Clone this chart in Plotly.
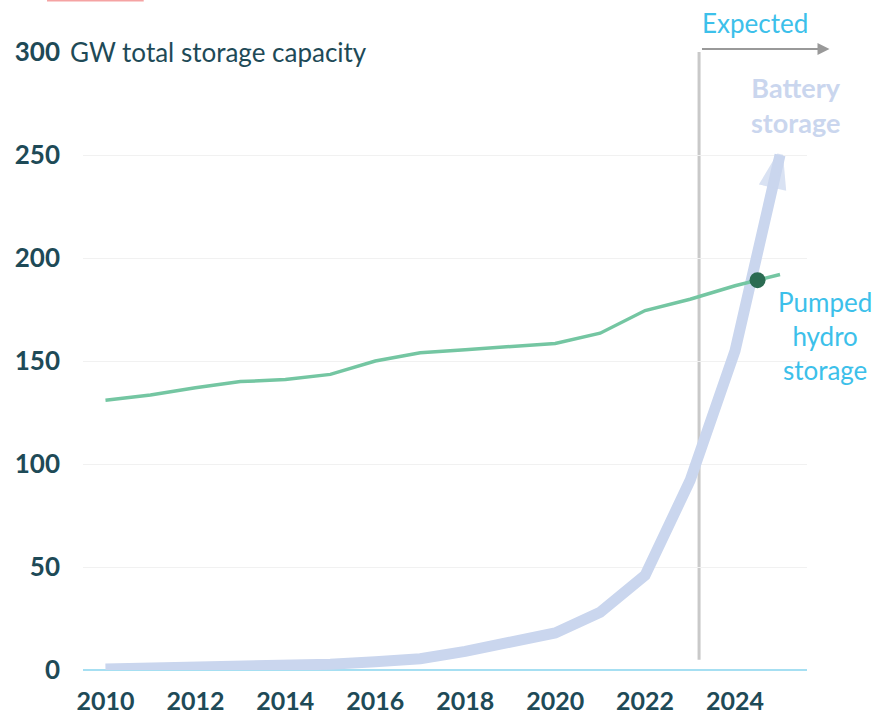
import plotly.graph_objects as go

# Installed storage capacity, GW
years = list(range(2010, 2026))
pumped_hydro = [131, 133.5, 137, 140, 141, 143.5, 150, 154, 155.5, 157, 158.5, 163.5, 174.5, 180, 186.5, 192]
battery = [0.5, 0.7, 1.0, 1.4, 2.0, 2.8, 4.0, 5.5, 9.0, 13.0, 18.0, 28.0, 46.0, 92.0, 155.0, 250.0]

forecast_from = 2023.2          # start of the expected period
crossover = (2024.5, 189.25)    # battery overtakes pumped hydro

x_tick_vals = list(range(2010, 2025, 2))
y_tick_vals = [0, 50, 100, 150, 200, 250, 300]

X0, X1 = 2009.5, 2025.6
Y0, Y1 = 0, 300


def xp(v):
    return (v - X0) / (X1 - X0)


def yp(v):
    return (v - Y0) / (Y1 - Y0)


TEXT = "#1e4a57"
CYAN = "#3cc0ea"
LAVENDER = "#cad6ee"
GREEN = "#74c6a2"
DOT = "#2b6b52"
FONT = "Lato"

fig = go.Figure()

# battery storage, ending in an arrow head
n = len(years)
fig.add_trace(go.Scatter(
    x=years, y=battery, mode="lines+markers",
    line=dict(color=LAVENDER, width=11),
    marker=dict(
        symbol=["circle"] * (n - 1) + ["arrow"],
        size=[0] * (n - 1) + [32],
        angleref="previous",
        color=LAVENDER,
        line=dict(color=LAVENDER, width=[0] * (n - 1) + [6]),
    ),
    hoverinfo="skip", showlegend=False,
))

fig.add_trace(go.Scatter(
    x=years, y=pumped_hydro, mode="lines",
    line=dict(color=GREEN, width=3.5),
    hoverinfo="skip", showlegend=False,
))

fig.add_trace(go.Scatter(
    x=[crossover[0]], y=[crossover[1]], mode="markers",
    marker=dict(color=DOT, size=16),
    hoverinfo="skip", showlegend=False,
))

# vertical boundary of the expected period
fig.add_shape(type="line", xref="x", yref="y",
              x0=forecast_from, x1=forecast_from, y0=5, y1=300,
              line=dict(color="#c9c9c9", width=3), layer="below")

annotations = [
    # horizontal arrow pointing into the expected period
    dict(x=xp(2026.1), y=yp(301.5), xref="paper", yref="paper",
         ax=-129, ay=0, text="", showarrow=True, arrowhead=2,
         arrowsize=1.2, arrowwidth=2, arrowcolor="#999999"),
    dict(x=xp(forecast_from), y=yp(301.5), xref="paper", yref="paper",
         xanchor="left", yanchor="bottom", yshift=8, xshift=1,
         text="Expected", showarrow=False,
         font=dict(family=FONT, size=26, color=CYAN)),
    dict(x=xp(2025.35), y=yp(274.5), xref="paper", yref="paper",
         xanchor="center", yanchor="middle",
         text="<b>Battery</b><br><b>storage</b>", showarrow=False,
         font=dict(family=FONT, size=27, color=LAVENDER)),
    dict(x=xp(2026.0), y=yp(162), xref="paper", yref="paper",
         xanchor="center", yanchor="middle",
         text="Pumped<br>hydro<br>storage", showarrow=False,
         font=dict(family=FONT, size=26, color=CYAN)),
    dict(x=xp(2009.2), y=1, xref="paper", yref="paper",
         xanchor="left", yanchor="middle", text="GW total storage capacity",
         showarrow=False, bgcolor="white", xshift=-2,
         font=dict(family=FONT, size=26, color=TEXT)),
]

fig.update_layout(
    width=879, height=714,
    margin=dict(l=83, r=72, t=52, b=44),
    paper_bgcolor="white", plot_bgcolor="white",
    annotations=annotations,
    shapes=list(fig.layout.shapes) + [
        dict(type="rect", xref="paper", yref="paper",
             x0=xp(2008.7), x1=xp(2010.85), y0=yp(324.5), y1=yp(326),
             fillcolor="#f5a3a3", line=dict(width=0)),
    ],
)

fig.update_xaxes(
    range=[X0, X1], tickvals=x_tick_vals, ticks="",
    showgrid=False, zeroline=False, showline=False, automargin=False,
    ticklabelstandoff=14,
    tickfont=dict(family=FONT, size=25, color=TEXT, weight="bold"),
)
fig.update_yaxes(
    range=[Y0, Y1], tickvals=y_tick_vals, ticks="",
    showgrid=True, gridcolor="#f1f1f1", gridwidth=1,
    zeroline=True, zerolinecolor="#a6dff2", zerolinewidth=2,
    showline=False, automargin=False, ticklabelstandoff=22,
    tickfont=dict(family=FONT, size=26, color=TEXT, weight="bold"),
)

fig.write_html("out.html")
